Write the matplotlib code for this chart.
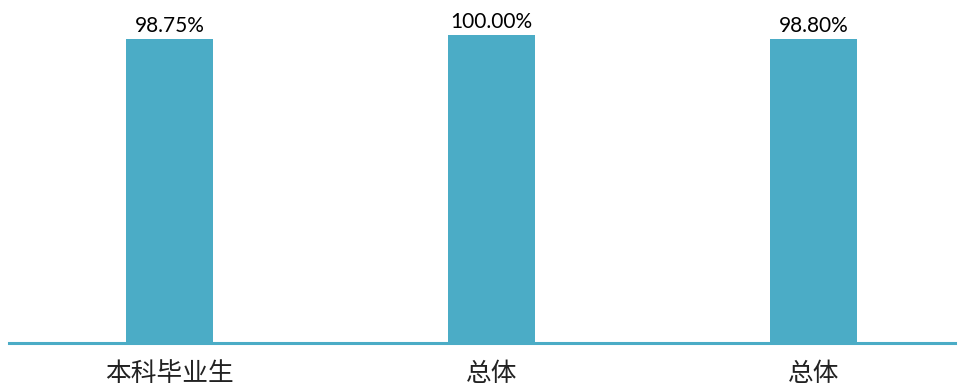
import matplotlib
matplotlib.use('Agg')
import matplotlib.pyplot as plt

# data
categories = ['本科毕业生', '总体', '总体']
values = [98.75, 100.00, 98.80]
labels = ['98.75%', '100.00%', '98.80%']

W, H = 961, 389
color = '#4BACC6'

fig = plt.figure(figsize=(W / 100, H / 100), dpi=100)
# axes from x=9..955 px, y=35..343 px
ax = fig.add_axes([9 / W, (H - 343) / H, 946 / W, 308 / H])

x = list(range(len(categories)))
ax.bar(x, values, width=0.27, color=color, zorder=2)
ax.set_xlim(-0.498, 2.439)
ax.set_ylim(0, 100)

for xi, v, lab in zip(x, values, labels):
    ax.text(xi, v + 1.0, lab, ha='center', va='bottom', fontsize=15,
            family=['Lato', 'DejaVu Sans'], color='black', clip_on=False)

ax.set_xticks(x)
ax.set_xticklabels(categories, family=['Noto Sans CJK SC', 'DejaVu Sans'],
                   fontsize=18.5, color='#222222')
ax.tick_params(axis='x', length=0, pad=13)
ax.set_yticks([])

for s in ['top', 'right', 'left']:
    ax.spines[s].set_visible(False)
ax.spines['bottom'].set_color(color)
ax.spines['bottom'].set_linewidth(2.2)
ax.spines['bottom'].set_zorder(3)

fig.savefig('out.png', dpi=100)
